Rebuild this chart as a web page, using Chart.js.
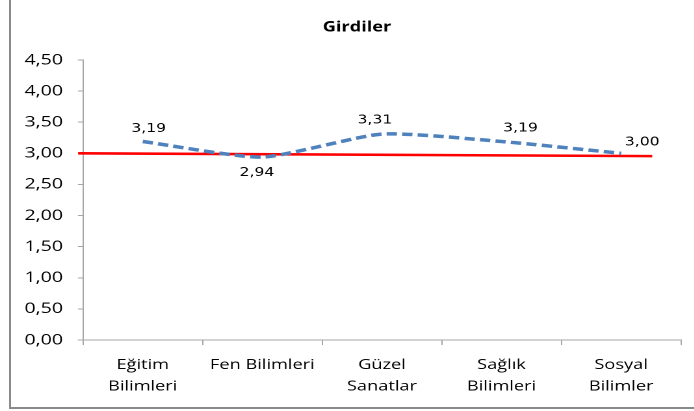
<!DOCTYPE html>
<html>
<head>
<meta charset="utf-8">
<script src="https://cdn.jsdelivr.net/npm/chart.js@4/dist/chart.umd.min.js"></script>
<style>
  html, body { margin: 0; padding: 0; background: #fff; }
  #wrap { position: relative; width: 694px; height: 411px; overflow: hidden; background: #fff; }
  #frame { position: absolute; left: 9px; top: -10px; width: 720px; height: 419px; border: 2px solid #8a8a8a; box-sizing: border-box; }
  #scaler { position: absolute; left: 0; top: 0; width: 534px; height: 411px; transform: scaleX(1.3); transform-origin: 0 0; }
</style>
</head>
<body>
<div id="wrap">
  <div id="frame"></div>
  <div id="scaler"><canvas id="c"></canvas></div>
</div>
<script>
// ---- data ----
const chartTitle = 'Girdiler';
const categories = [['Eğitim', 'Bilimleri'], 'Fen Bilimleri', ['Güzel', 'Sanatlar'], ['Sağlık', 'Bilimleri'], ['Sosyal', 'Bilimler']];
const girdiler = [3.19, 2.94, 3.31, 3.19, 3.00];
const valueLabels = ['3,19', '2,94', '3,31', '3,19', '3,00'];
const refLineX = [-0.54, 4.26];
const refLineY = [3.00, 2.955];
const yTickLabels = ['0,00', '0,50', '1,00', '1,50', '2,00', '2,50', '3,00', '3,50', '4,00', '4,50'];

// ---- styles / label placement (not data) ----
const labelOffsets = [[4.6, -12.5], [-4.2, 16], [-5.4, -13.5], [14.6, -13], [16.2, -11]];
const axisColor = '#a6a6a6';
const textColor = '#000';

const valueLabelPlugin = {
  id: 'valueLabels',
  afterDatasetsDraw(chart) {
    const meta = chart.getDatasetMeta(0);
    const ctx = chart.ctx;
    ctx.save();
    ctx.font = '12px "DejaVu Sans"';
    ctx.fillStyle = '#000';
    ctx.textAlign = 'center';
    ctx.textBaseline = 'middle';
    meta.data.forEach((pt, i) => {
      const o = labelOffsets[i];
      ctx.fillText(valueLabels[i], pt.x + o[0], pt.y + o[1]);
    });
    ctx.restore();
  }
};

new Chart(document.getElementById('c'), {
  type: 'line',
  data: {
    labels: categories,
    datasets: [
      {
        label: 'Girdiler',
        data: girdiler,
        xAxisID: 'x',
        yAxisID: 'y',
        borderColor: '#4f81bd',
        borderWidth: 3.5,
        borderDash: [8, 4],
        tension: 0.2,
        pointRadius: 0,
        fill: false
      },
      {
        label: 'ref',
        data: refLineX.map((x, i) => ({ x: x, y: refLineY[i] })),
        xAxisID: 'xl',
        yAxisID: 'y',
        borderColor: '#ff0000',
        borderWidth: 2.6,
        pointRadius: 0,
        tension: 0,
        clip: false,
        fill: false
      }
    ]
  },
  options: {
    responsive: true,
    maintainAspectRatio: false,
    devicePixelRatio: 2,
    animation: false,
    layout: { padding: { left: 15.2, right: 0, top: 10, bottom: 0 } },
    plugins: {
      legend: { display: false },
      tooltip: { enabled: false },
      title: {
        display: true,
        text: chartTitle,
        color: '#000',
        font: { family: '"Open Sans"', size: 14, weight: 'bold' },
        padding: { top: 9, bottom: 24.2 }
      }
    },
    scales: {
      y: {
        type: 'linear',
        position: 'left',
        min: 0,
        max: 4.5,
        afterFit(s) { s.width = 48.6; },
        ticks: {
          stepSize: 0.5,
          padding: 11.5,
          color: textColor,
          font: { family: '"Open Sans"', size: 15 },
          callback: (v, i) => yTickLabels[i]
        },
        grid: { display: true, drawOnChartArea: false, drawTicks: true, tickLength: 3.85, color: axisColor },
        border: { display: true, color: axisColor, width: 1 }
      },
      yr: {
        type: 'linear',
        position: 'right',
        display: true,
        afterFit(s) { s.width = 10.2; },
        ticks: { display: false },
        grid: { display: false },
        border: { display: false }
      },
      x: {
        type: 'category',
        position: 'bottom',
        offset: true,
        afterFit(s) { s.height = 71; },
        ticks: {
          autoSkip: false,
          maxRotation: 0,
          padding: 9,
          color: textColor,
          font: { family: '"Open Sans"', size: 14, lineHeight: 1.55 }
        },
        grid: { display: true, offset: true, drawOnChartArea: false, drawTicks: true, tickLength: 5, color: axisColor },
        border: { display: true, color: axisColor, width: 1 }
      },
      xl: {
        type: 'linear',
        position: 'bottom',
        display: false,
        min: -0.5,
        max: 4.5
      }
    }
  },
  plugins: [valueLabelPlugin]
});
</script>
</body>
</html>
